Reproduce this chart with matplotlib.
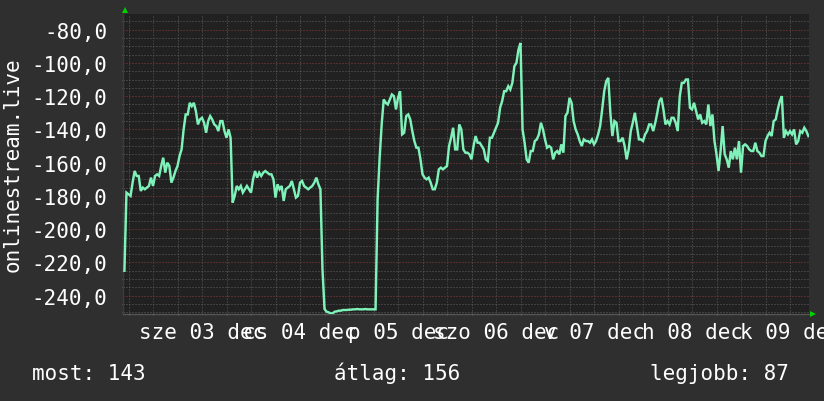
import numpy as np
import matplotlib
matplotlib.use("Agg")
import matplotlib.pyplot as plt
from matplotlib.transforms import ScaledTranslation

# ---- data: half-hourly samples, hours relative to 3 Dec 00:00 ----
start_hour = -7.0
step_hours = 0.5

dec02 = [-225, -178, -179, -180, -172, -165, -168, -168, -177, -175, -176, -175, -174, -169]
dec03 = [-174, -168, -167, -168, -162, -157, -166, -160, -162, -172, -169, -165, -162, -156,
         -152, -140, -131, -131, -124, -126, -124, -129, -137, -134, -133, -136, -142, -135,
         -132, -134, -137, -138, -141, -135, -135, -141, -145, -140, -145, -184, -180, -174,
         -176, -174, -178, -176, -174, -176]
dec04 = [-178, -170, -165, -169, -166, -168, -166, -165, -166, -167, -167, -170, -181, -173,
         -176, -174, -183, -176, -175, -174, -171, -176, -181, -180, -172, -171, -174, -175,
         -176, -175, -174, -172, -169, -173, -176, -224, -248, -249.6, -250, -250.6, -250.6,
         -249.6, -249.4, -249, -249, -248.6, -248.6, -248.6]
dec05 = [-248.4, -248.4, -248.2, -248.2, -248.0, -248.2, -248.2, -248.2, -248.0, -248.2,
         -248.2, -248.2, -248.2, -248.2, -182, -157, -137, -122, -124, -125, -122, -119, -120,
         -128, -121, -117, -143, -142, -132, -131, -134, -141, -147, -151, -151, -158, -167,
         -169, -170, -169, -172, -176, -176, -172, -164, -163, -164, -163]
dec06 = [-162, -150, -145, -139, -152, -152, -137, -140, -152, -154, -154, -155, -158, -150,
         -144, -148, -148, -150, -152, -158, -159, -145, -145, -142, -139, -136, -127, -123,
         -117, -117, -114, -116, -112, -102, -100, -92, -88, -140, -148, -158, -160, -153,
         -153, -147, -146, -143, -136, -140]
dec07 = [-146, -151, -150, -151, -158, -154, -153, -155, -149, -154, -132, -130, -121, -124,
         -135, -140, -143, -147, -150, -146, -147, -147, -148, -146, -149, -147, -143, -138,
         -128, -117, -111, -109, -130, -144, -135, -136, -147, -147, -145, -150, -158, -152,
         -141, -136, -130, -138, -146, -146]
dec08 = [-147, -143, -141, -137, -137, -141, -136, -130, -123, -121, -128, -137, -135, -137,
         -133, -133, -136, -141, -120, -112, -112, -110, -110, -127, -128, -124, -129, -134,
         -131, -136, -135, -137, -125, -138, -131, -147, -155, -165, -153, -138, -155, -158,
         -163, -153, -158, -151, -158, -147]
dec09 = [-166, -150, -149, -150, -152, -153, -153, -148, -153, -154, -156, -156, -147, -144,
         -142, -144, -135, -134, -128, -123, -120, -145, -141, -143, -141, -143, -140, -149,
         -147, -141, -142, -139, -141, -144]

day_labels = ["sze 03 dec", "cs 04 dec", "p 05 dec", "szo 06 dec",
              "v 07 dec", "h 08 dec", "k 09 dec"]
y_label = "onlinestream.live"
stat_names = ["most", "átlag", "legjobb"]
stat_values = [143, 156, 87]

values = np.array(dec02 + dec03 + dec04 + dec05 + dec06 + dec07 + dec08 + dec09, dtype=float)
hours = start_hour + step_hours * np.arange(len(values))

# ---- style ----
BG = "#2f2f2f"
PLOT_BG = "#212121"
MINOR = "#606060"
MAJOR = "#8c3c3c"
LINE = "#7ef2b9"
TEXT = "#ffffff"
ARROW = "#00d000"
FONT = "DejaVu Sans Mono"
FS = 15

W, H = 824, 402
fig = plt.figure(figsize=(W / 100, H / 100), dpi=100, facecolor=BG)
ax = fig.add_axes([123 / W, 1 - 315 / H, 686 / W, 300 / H])
ax.set_facecolor(PLOT_BG)

x_min, x_max = -7.35, 160.65
y_min, y_max = -251.0, -70.6
ax.set_xlim(x_min, x_max)
ax.set_ylim(y_min, y_max)

dot = (0, (1, 2))
px = 0.72
# horizontal grid
for v in np.arange(-250, -70, 5):
    if v % 20 == 0:
        continue
    ax.axhline(v, color=MINOR, lw=px, ls=dot, zorder=1)
for v in np.arange(-240, -70, 20):
    ax.axhline(v, color=MAJOR, lw=px, ls=dot, zorder=1.5)
# vertical grid
for h in np.arange(-6, 161, 6):
    if h % 24 == 0:
        continue
    ax.axvline(h, color=MINOR, lw=px, ls=dot, zorder=1)
for h in np.arange(0, 161, 24):
    ax.axvline(h, color=MAJOR, lw=px, ls=dot, zorder=1.5)

ax.plot(hours, values, color=LINE, lw=1.75, zorder=3, solid_joinstyle="miter")

# ticks
yt = np.arange(-240, -79, 20)
ax.set_yticks(yt)
ax.set_yticklabels([f"{v:.1f}".replace(".", ",") for v in yt])
ax.set_yticks(np.arange(-250, -70, 5), minor=True)
ax.set_xticks([12 + 24 * i for i in range(len(day_labels))])
ax.set_xticklabels(day_labels)
ax.set_xticks(np.arange(-6, 161, 6), minor=True)
ax.tick_params(axis="both", which="major", length=0, colors=TEXT, labelsize=FS)
ax.tick_params(axis="both", which="minor", length=2, width=0.7, direction="inout",
               color="#6a6a6a")
ax.tick_params(axis="y", which="major", pad=11.5)
ax.tick_params(axis="x", which="major", pad=6)
for lab in ax.get_xticklabels() + ax.get_yticklabels():
    lab.set_family(FONT)

for s in ["top", "right"]:
    ax.spines[s].set_visible(False)
ax.spines["left"].set_color("#3c3c3c")
ax.spines["bottom"].set_color("#555555")
ax.spines["left"].set_linewidth(1)
ax.spines["bottom"].set_linewidth(1)

# arrows at axis ends
off_up = ScaledTranslation(2 / 100, 4 / 100, fig.dpi_scale_trans)
ax.plot([0], [1], marker="^", ms=4.5, color=ARROW, transform=ax.transAxes + off_up,
        clip_on=False, zorder=5, mew=0)
off_rt = ScaledTranslation(4 / 100, 0.5 / 100, fig.dpi_scale_trans)
ax.plot([1], [0], marker=">", ms=4.5, color=ARROW, transform=ax.transAxes + off_rt,
        clip_on=False, zorder=5, mew=0)

fig.text(13 / W, 1 - 165 / H, y_label, rotation=90, ha="center", va="center",
         color=TEXT, fontsize=FS, family=FONT)

stat_x = [32, 333.5, 649.5]
for name, val, sx in zip(stat_names, stat_values, stat_x):
    fig.text(sx / W, 1 - 380 / H, f"{name}: {val}", ha="left", va="baseline",
             color=TEXT, fontsize=FS, family=FONT)

fig.savefig("out.png", dpi=100, facecolor=BG)
